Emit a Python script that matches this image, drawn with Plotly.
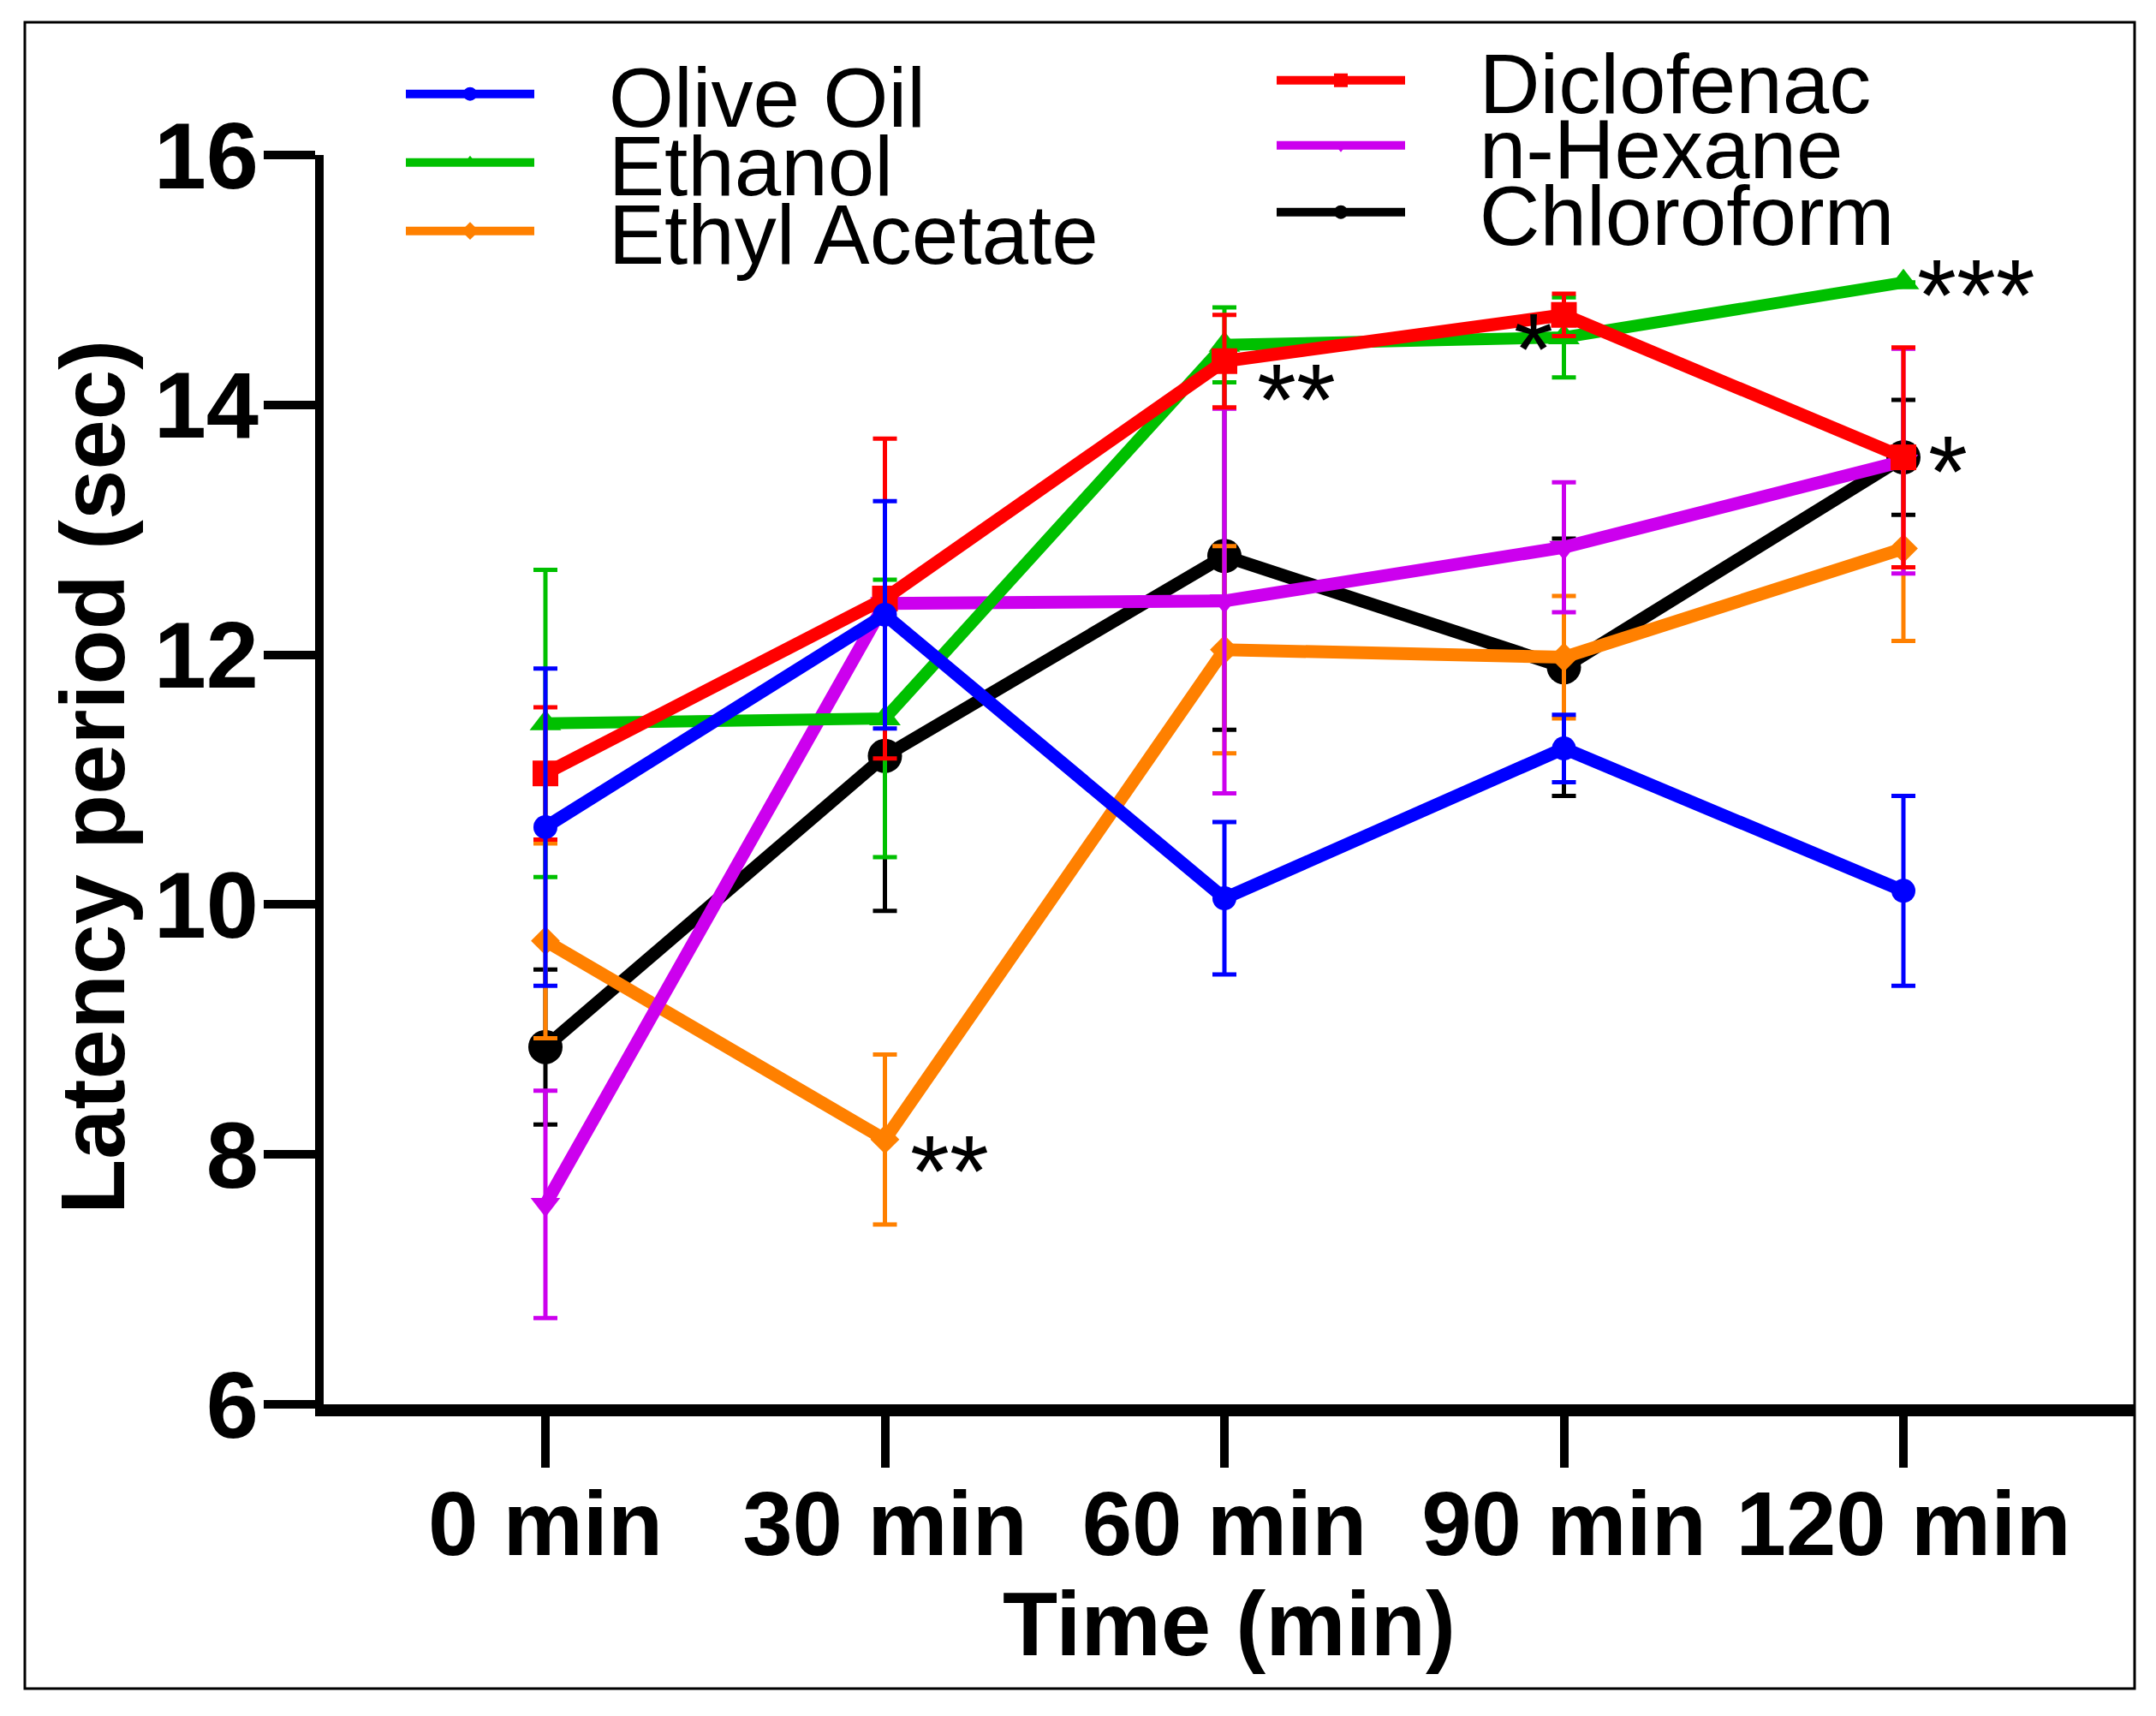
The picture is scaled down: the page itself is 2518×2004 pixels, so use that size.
import plotly.graph_objects as go

# ---------------- data ----------------
categories = ["0 min", "30 min", "60 min", "90 min", "120 min"]

series_names = ["Olive Oil", "Ethanol", "Ethyl Acetate", "Diclofenac", "n-Hexane", "Chloroform"]

olive_oil = [10.62, 12.32, 10.05, 11.25, 10.11]
olive_oil_sem = [1.27, 0.91, 0.61, 0.27, 0.76]

ethanol = [11.45, 11.49, 14.48, 14.54, 14.98]
ethanol_sem = [1.23, 1.11, 0.30, 0.32, 0.0]

ethyl_acetate = [9.71, 8.12, 12.04, 11.98, 12.85]
ethyl_acetate_sem = [0.78, 0.68, 0.83, 0.49, 0.74]

diclofenac = [11.05, 12.45, 14.35, 14.72, 13.58]
diclofenac_sem = [0.53, 1.28, 0.37, 0.17, 0.88]

n_hexane = [7.60, 12.41, 12.43, 12.86, 13.55]
n_hexane_sem = [0.91, 0.05, 1.54, 0.52, 0.90]

chloroform = [8.86, 11.19, 12.79, 11.90, 13.58]
chloroform_sem = [0.62, 1.24, 1.39, 1.03, 0.46]

# significance marks: category, value, label
star_x = ["30 min", "60 min", "90 min", "120 min", "120 min"]
star_y = [7.96, 14.14, 14.55, 14.98, 13.57]
star_text = ["**", "**", "*", "***", "*"]

y_ticks = [6, 8, 10, 12, 14, 16]

x_title = "Time (min)"
y_title = "Latency period (sec)"

# ---------------- styling ----------------
PAGE_OFF = 8                      # default body margin of the html page
W, H = 2518 - 2 * PAGE_OFF, 2004 - 2 * PAGE_OFF


def fx(px):                        # page pixel -> figure pixel
    return px - PAGE_OFF


# inner edges of the plotting area (page pixels)
PLOT_L, PLOT_R, PLOT_T, PLOT_B = fx(378), fx(2493), fx(181), fx(1640)
ML, MR, MT, MB = PLOT_L, W - PLOT_R, PLOT_T, H - PLOT_B
PW, PH = PLOT_R - PLOT_L, PLOT_B - PLOT_T

# category spacing: first category at page x 637, step 396.5 px
CAT0, CAT_STEP = 637, 396.5
x_range = [(378 - CAT0) / CAT_STEP, (2493 - CAT0) / CAT_STEP]


def paper_x(px):
    return (fx(px) - PLOT_L) / PW


def paper_y(py):
    return (PLOT_B - fx(py)) / PH


FONT = "Liberation Sans, Arial, Helvetica, sans-serif"

styles = {
    "Olive Oil":     dict(color="#0000FF", symbol="circle",        size=28, lw=15),
    "Ethanol":       dict(color="#00C000", symbol="triangle-up",   size=32, lw=14),
    "Ethyl Acetate": dict(color="#FF8000", symbol="diamond",       size=26, lw=15),
    "Diclofenac":    dict(color="#FF0000", symbol="square",        size=30, lw=15),
    "n-Hexane":      dict(color="#CC00EE", symbol="triangle-down", size=30, lw=15),
    "Chloroform":    dict(color="#000000", symbol="circle",        size=40, lw=15),
}

data = {
    "Olive Oil": (olive_oil, olive_oil_sem),
    "Ethanol": (ethanol, ethanol_sem),
    "Ethyl Acetate": (ethyl_acetate, ethyl_acetate_sem),
    "Diclofenac": (diclofenac, diclofenac_sem),
    "n-Hexane": (n_hexane, n_hexane_sem),
    "Chloroform": (chloroform, chloroform_sem),
}

# legend placement in page pixels (legend left x, row centre y)
legend_pos = {
    "Olive Oil":     (469, 110),
    "Ethanol":       (469, 190),
    "Ethyl Acetate": (469, 270),
    "Diclofenac":    (1486, 94),
    "n-Hexane":      (1486, 170),
    "Chloroform":    (1486, 248),
}
legend_ids = {name: ("legend" if i == 0 else f"legend{i+1}") for i, name in enumerate(series_names)}
GAP = "\u00a0\u00a0\u00a0"

# drawing order (bottom -> top)
draw_order = ["Chloroform", "Ethyl Acetate", "n-Hexane", "Ethanol", "Diclofenac", "Olive Oil"]

fig = go.Figure()
for name in draw_order:
    vals, sem = data[name]
    st = styles[name]
    fig.add_trace(go.Scatter(
        x=categories, y=vals, name=GAP + name, mode="lines+markers",
        line=dict(color=st["color"], width=st["lw"]),
        marker=dict(color=st["color"], symbol=st["symbol"], size=st["size"],
                    line=dict(width=0)),
        error_y=dict(type="data", array=sem, visible=True, thickness=5,
                     width=14, color=st["color"]),
        legend=legend_ids[name],
        showlegend=True,
    ))

layout_legends = {}
for name in series_names:
    px, py = legend_pos[name]
    layout_legends[legend_ids[name]] = dict(
        x=paper_x(px), y=paper_y(py),
        xanchor="left", yanchor="middle",
        font=dict(family=FONT, size=98, color="black"),
        bgcolor="rgba(0,0,0,0)", borderwidth=0,
        itemwidth=150, tracegroupgap=0,
    )

annotations = []
for sx, sy, stxt, xs, ys in zip(star_x, star_y, star_text,
                                [75, 84, -36, 85, 52], [-14, -15, -15, -15, -15]):
    annotations.append(dict(
        x=sx, y=sy, xref="x", yref="y", text=stxt, showarrow=False,
        xshift=xs, yshift=ys, xanchor="center", yanchor="middle",
        font=dict(family=FONT, size=118, color="black"),
    ))

# y-axis title
annotations.append(dict(
    x=paper_x(108), y=paper_y(908), xref="paper", yref="paper",
    text=y_title, textangle=-90, showarrow=False,
    xanchor="center", yanchor="middle",
    font=dict(family=FONT, size=105, color="black", weight="bold"),
))

border = dict(
    type="rect", xref="paper", yref="paper",
    x0=paper_x(29), x1=paper_x(2493),
    y0=paper_y(1972), y1=paper_y(26),
    line=dict(color="black", width=3), fillcolor="rgba(0,0,0,0)", layer="below",
)

fig.update_layout(
    width=W, height=H,
    margin=dict(l=ML, r=MR, t=MT, b=MB, pad=0),
    paper_bgcolor="white", plot_bgcolor="white",
    font=dict(family=FONT, color="black"),
    annotations=annotations,
    shapes=[border],
    **layout_legends,
)

fig.update_xaxes(
    type="category", categoryorder="array", categoryarray=categories,
    range=x_range,
    showline=True, linewidth=14, linecolor="black",
    ticks="outside", ticklen=60, tickwidth=10, tickcolor="black",
    ticklabelstandoff=-24,
    tickfont=dict(family=FONT, size=105, color="black", weight="bold"),
    title=dict(text=x_title, font=dict(family=FONT, size=105, color="black", weight="bold"),
               standoff=15),
    showgrid=False, zeroline=False,
)
fig.update_yaxes(
    range=[6, 16], tickvals=y_ticks,
    showline=True, linewidth=10, linecolor="black",
    ticks="outside", ticklen=60, tickwidth=10, tickcolor="black",
    ticklabelstandoff=-16,
    tickfont=dict(family=FONT, size=110, color="black", weight="bold"),
    showgrid=False, zeroline=False,
)

fig.write_html("out.html")
